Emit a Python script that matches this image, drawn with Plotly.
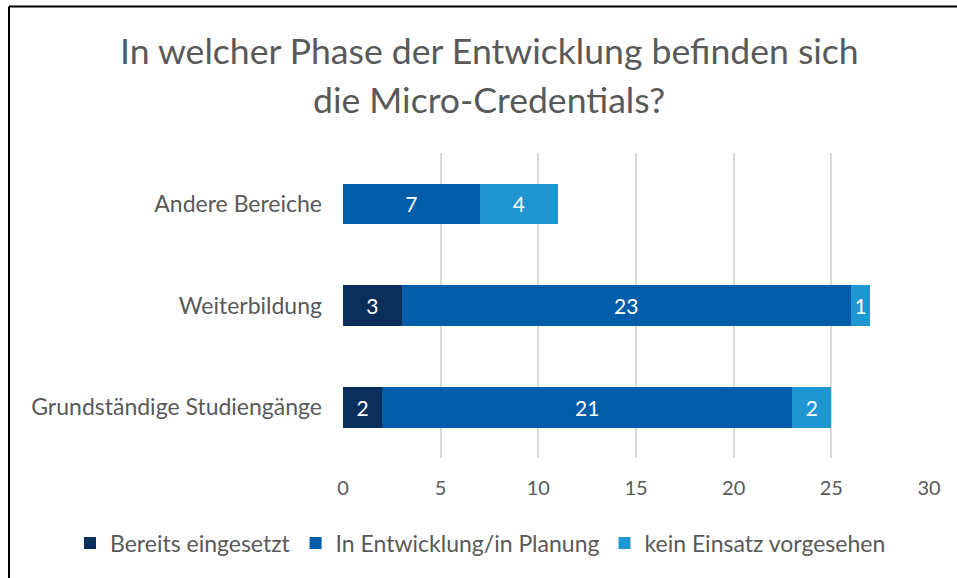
import plotly.graph_objects as go

categories = ["Grundständige Studiengänge", "Weiterbildung", "Andere Bereiche"]
series_names = ["Bereits eingesetzt", "In Entwicklung/in Planung", "kein Einsatz vorgesehen"]
bereits = [2, 3, None]
entwicklung = [21, 23, 7]
kein = [2, 1, 4]
colors = ["#0B2F5B", "#005DAA", "#1F95D2"]
x_ticks = [0, 5, 10, 15, 20, 25, 30]
title_lines = ["In welcher Phase der Entwicklung befinden sich", "die Micro-Credentials?"]

FONT = "Lato"
GREY = "#595959"

fig = go.Figure()
for name, vals, col in zip(series_names, [bereits, entwicklung, kein], colors):
    fig.add_trace(go.Bar(
        y=categories, x=vals, name=name, orientation="h",
        marker=dict(color=col, line=dict(width=0)),
        text=[("" if v is None else str(v)) for v in vals],
        textposition="inside", insidetextanchor="middle", textangle=0,
        textfont=dict(color="white", size=21, family=FONT),
        width=0.4,
    ))

W, H = 957, 578
l, r, t, b = 343, 28, 153, 120
pw, ph = W - l - r, H - t - b

def px_x(p):
    return (p - l) / pw

def px_y(p):
    return 1 - (p - t) / ph

annotations = []
for line, yc in zip(title_lines, [50, 100]):
    annotations.append(dict(
        text=line, xref="paper", yref="paper", x=px_x(489), y=px_y(yc),
        xanchor="center", yanchor="middle", showarrow=False,
        font=dict(family=FONT, size=35.6, color=GREY),
    ))

fig.update_layout(
    width=W, height=H,
    barmode="stack",
    margin=dict(l=l, r=r, t=t, b=b, autoexpand=False),
    paper_bgcolor="white", plot_bgcolor="white",
    xaxis=dict(
        range=[0, 30], tickvals=x_ticks, ticktext=[str(v) for v in x_ticks],
        showgrid=True, gridcolor="#D9D9D9", gridwidth=2, zeroline=False,
        showline=False, ticks="", ticklabelstandoff=16,
        tickfont=dict(family=FONT, size=20, color=GREY),
    ),
    yaxis=dict(
        showgrid=False, showline=False, ticks="", ticklabelstandoff=20,
        tickfont=dict(family=FONT, size=23, color=GREY),
        range=[-0.5, 2.5],
    ),
    legend=dict(
        orientation="h", x=px_x(70), xanchor="left",
        y=px_y(543), yanchor="middle",
        font=dict(family=FONT, size=23, color=GREY),
        traceorder="normal", itemwidth=30,
    ),
    showlegend=True,
    annotations=annotations,
    shapes=[
        dict(type="line", xref="paper", yref="paper",
             x0=px_x(9), x1=px_x(W + 20), y0=px_y(6.5), y1=px_y(6.5),
             line=dict(color="black", width=2)),
        dict(type="line", xref="paper", yref="paper",
             x0=px_x(9), x1=px_x(9), y0=px_y(6.5), y1=px_y(H + 20),
             line=dict(color="black", width=2)),
    ],
)

fig.write_html(
    "out.html",
    config={"displayModeBar": False},
    post_script="document.body.style.margin='0';document.body.style.overflow='hidden';",
)
